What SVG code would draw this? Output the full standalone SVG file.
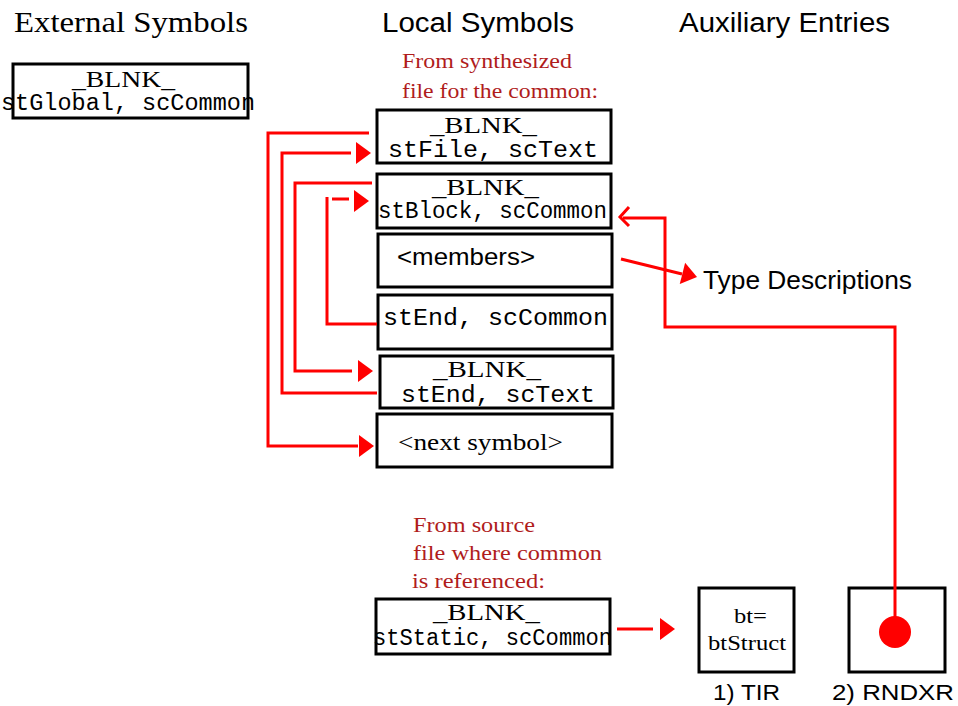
<svg xmlns="http://www.w3.org/2000/svg" xmlns:xlink="http://www.w3.org/1999/xlink" width="958" height="706" viewBox="0 0 958 706">
<style>
.box{fill:#fff;stroke:#000;stroke-width:3}
.serif{font-family:"Liberation Serif","Times New Roman",serif;fill:#000}
.sans{font-family:"Liberation Sans",Arial,sans-serif;fill:#000}
.mono{font-family:"Liberation Mono","Courier New",monospace;fill:#000}
.note{font-family:"Liberation Serif","Times New Roman",serif;fill:#b01c1c;font-size:22px}
.blnk{font-size:24px}
.code{font-size:23px}
.conn{fill:none;stroke:#ff0000;stroke-width:3}
.ah{fill:#ff0000}
</style>
<defs>
<polygon id="ah" class="ah" points="-15,-11 0,0 -15,11"/>
</defs>
<rect width="958" height="706" fill="#fff"/>

<g id="headings">
<text class="serif" x="14" y="32" font-size="30" textLength="234" lengthAdjust="spacingAndGlyphs">External Symbols</text>
<text class="sans" x="382" y="32" font-size="27" textLength="192" lengthAdjust="spacingAndGlyphs">Local Symbols</text>
<text class="sans" x="679" y="32" font-size="27" textLength="211" lengthAdjust="spacingAndGlyphs">Auxiliary Entries</text>
</g>

<g id="ext-blnk">
<rect class="box" x="13" y="64" width="235" height="54"/>
<text class="serif blnk" x="72" y="87" textLength="103" lengthAdjust="spacingAndGlyphs">_BLNK_</text>
<text class="mono code" x="1" y="110" textLength="254" lengthAdjust="spacingAndGlyphs">stGlobal, scCommon</text>
</g>

<g id="note-synth">
<text class="note" x="402" y="68" textLength="170" lengthAdjust="spacingAndGlyphs">From synthesized</text>
<text class="note" x="402" y="98" textLength="196" lengthAdjust="spacingAndGlyphs">file for the common:</text>
</g>

<g id="loc-file">
<rect class="box" x="377" y="110" width="234" height="53"/>
<text class="serif blnk" x="430" y="133" textLength="107" lengthAdjust="spacingAndGlyphs">_BLNK_</text>
<text class="mono code" x="388" y="157" textLength="210" lengthAdjust="spacingAndGlyphs">stFile, scText</text>
</g>

<g id="loc-block">
<rect class="box" x="377" y="174" width="234" height="54"/>
<text class="serif blnk" x="432" y="195" textLength="107" lengthAdjust="spacingAndGlyphs">_BLNK_</text>
<text class="mono code" x="378" y="218" textLength="229" lengthAdjust="spacingAndGlyphs">stBlock, scCommon</text>
</g>

<g id="loc-members">
<rect class="box" x="378" y="234" width="234" height="53"/>
<text class="sans" x="397" y="265" font-size="24" textLength="138" lengthAdjust="spacingAndGlyphs">&lt;members&gt;</text>
</g>

<g id="loc-end-common">
<rect class="box" x="378" y="295" width="234" height="54"/>
<text class="mono code" x="383" y="325" textLength="225" lengthAdjust="spacingAndGlyphs">stEnd, scCommon</text>
</g>

<g id="loc-end-text">
<rect class="box" x="380" y="356" width="233" height="52"/>
<text class="serif blnk" x="433" y="377" textLength="108" lengthAdjust="spacingAndGlyphs">_BLNK_</text>
<text class="mono code" x="401" y="402" textLength="194" lengthAdjust="spacingAndGlyphs">stEnd, scText</text>
</g>

<g id="loc-next">
<rect class="box" x="377" y="414" width="235" height="53"/>
<text class="serif" x="398" y="450" font-size="24" textLength="165" lengthAdjust="spacingAndGlyphs">&lt;next symbol&gt;</text>
</g>

<g id="note-source">
<text class="note" x="413" y="532" textLength="122" lengthAdjust="spacingAndGlyphs">From source</text>
<text class="note" x="413" y="560" textLength="189" lengthAdjust="spacingAndGlyphs">file where common</text>
<text class="note" x="412" y="588" textLength="133" lengthAdjust="spacingAndGlyphs">is referenced:</text>
</g>

<g id="loc-static">
<rect class="box" x="376" y="599" width="234" height="55"/>
<text class="serif blnk" x="433" y="620" textLength="107" lengthAdjust="spacingAndGlyphs">_BLNK_</text>
<text class="mono code" x="373" y="645" textLength="239" lengthAdjust="spacingAndGlyphs">stStatic, scCommon</text>
</g>

<g id="type-desc">
<text class="sans" x="703" y="289" font-size="26" textLength="209" lengthAdjust="spacingAndGlyphs">Type Descriptions</text>
</g>

<g id="aux-tir">
<rect class="box" x="699" y="588" width="95" height="84"/>
<text class="serif" x="734" y="623" font-size="20" textLength="33" lengthAdjust="spacingAndGlyphs">bt=</text>
<text class="serif" x="708" y="650" font-size="20" textLength="78" lengthAdjust="spacingAndGlyphs">btStruct</text>
<text class="sans" x="713" y="700" font-size="22" textLength="67" lengthAdjust="spacingAndGlyphs">1) TIR</text>
</g>

<g id="aux-rndxr">
<rect class="box" x="849" y="588" width="96" height="84"/>
<text class="sans" x="832" y="700" font-size="22" textLength="122" lengthAdjust="spacingAndGlyphs">2) RNDXR</text>
</g>

<g id="connectors">
<path class="conn" d="M369,133 H268 V446 H358"/>
<use xlink:href="#ah" href="#ah" x="374" y="446"/>
<path class="conn" d="M377,393 H282 V153 H351"/>
<use xlink:href="#ah" href="#ah" x="371" y="153"/>
<path class="conn" d="M372,183 H295 V371 H352"/>
<use xlink:href="#ah" href="#ah" x="373" y="371"/>
<path class="conn" d="M377,324 H327 V197 M332,199 H349"/>
<use xlink:href="#ah" href="#ah" x="369" y="201"/>
<path class="conn" d="M621,259 L682,274"/>
<use xlink:href="#ah" href="#ah" transform="translate(697,277) rotate(14)"/>
<path class="conn" d="M617,629 H653"/>
<use xlink:href="#ah" href="#ah" x="675" y="629"/>
<circle cx="895" cy="632" r="16" fill="#ff0000"/>
<path class="conn" d="M895,632 V327 H665 V218 H623"/>
<polyline class="conn" stroke-width="4" points="629,207 620,217 629,226"/>
</g>
</svg>
